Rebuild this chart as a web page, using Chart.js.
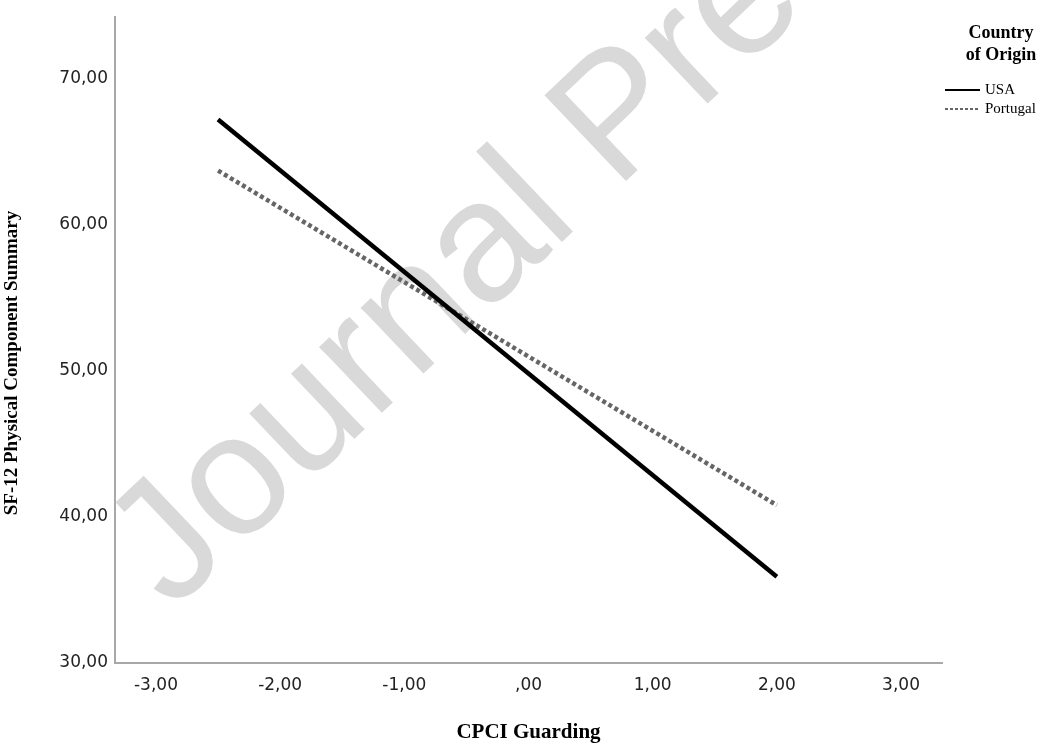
<!DOCTYPE html>
<html><head><meta charset="utf-8">
<script src="https://cdn.jsdelivr.net/npm/chart.js@4/dist/chart.umd.min.js"></script>
<style>html,body{margin:0;padding:0;background:#fff;}#wrap{width:1058px;height:747px;position:relative;}</style>
</head><body><div id="wrap"><canvas id="c" width="1058" height="747"></canvas></div>
<script>
const xValues = [-2.5, 2.0];
const usaValues = [67.2, 35.9];
const portugalValues = [63.7, 40.8];
const seriesNames = ['USA', 'Portugal'];
const xTickValues = [-3, -2, -1, 0, 1, 2, 3];
const xTickLabels = ['-3,00', '-2,00', '-1,00', ',00', '1,00', '2,00', '3,00'];
const yTickValues = [30, 40, 50, 60, 70];
const yTickLabels = ['30,00', '40,00', '50,00', '60,00', '70,00'];
const xTitle = 'CPCI Guarding';
const yTitle = 'SF-12 Physical Component Summary';
const legendTitle = ['Country', 'of Origin'];
const watermark = 'Journal Pre-proof';

const toPoints = (ys) => xValues.map((x, i) => ({x: x, y: ys[i]}));

const watermarkPlugin = {
  id: 'watermark',
  beforeDatasetsDraw(chart) {
    const ctx = chart.ctx;
    ctx.save();
    ctx.translate(172, 612);
    ctx.rotate(-43.5 * Math.PI / 180);
    ctx.font = '172px "Liberation Sans", Arial, sans-serif';
    ctx.fillStyle = '#d9d9d9';
    ctx.textBaseline = 'alphabetic';
    ctx.textAlign = 'left';
    ctx.fillText(watermark, 0, 0);
    ctx.restore();
  }
};

const yTitlePlugin = {
  id: 'yTitle',
  afterDraw(chart) {
    const ctx = chart.ctx;
    ctx.save();
    ctx.translate(12, 363);
    ctx.rotate(-Math.PI / 2);
    ctx.font = 'bold 19px "Liberation Serif", "Times New Roman", serif';
    ctx.fillStyle = '#000';
    ctx.textAlign = 'center';
    ctx.textBaseline = 'middle';
    ctx.fillText(yTitle, 0, 0);
    ctx.restore();
  }
};

const legendPlugin = {
  id: 'customLegend',
  afterDraw(chart) {
    const ctx = chart.ctx;
    ctx.save();
    ctx.fillStyle = '#000';
    ctx.textAlign = 'center';
    ctx.textBaseline = 'middle';
    ctx.font = 'bold 18px "Liberation Serif", "Times New Roman", serif';
    legendTitle.forEach((t, i) => ctx.fillText(t, 1001, 33 + i * 22));
    ctx.font = '15px "Liberation Serif", "Times New Roman", serif';
    ctx.textAlign = 'left';
    chart.data.datasets.forEach((ds, i) => {
      const y = 90 + i * 19;
      ctx.strokeStyle = ds.borderColor;
      ctx.lineWidth = 2;
      ctx.setLineDash(ds.borderDash ? [3, 2] : []);
      ctx.beginPath();
      ctx.moveTo(945, y);
      ctx.lineTo(980, y);
      ctx.stroke();
      ctx.setLineDash([]);
      ctx.fillStyle = '#000';
      ctx.fillText(ds.label, 985, y);
    });
    ctx.restore();
  }
};

new Chart(document.getElementById('c'), {
  type: 'line',
  data: {
    datasets: [
      {label: seriesNames[0], data: toPoints(usaValues), borderColor: '#000000', borderWidth: 4.5, pointRadius: 0, fill: false, tension: 0},
      {label: seriesNames[1], data: toPoints(portugalValues), borderColor: '#666666', borderWidth: 4.5, borderDash: [4, 3], pointRadius: 0, fill: false, tension: 0}
    ]
  },
  options: {
    responsive: false,
    devicePixelRatio: 1,
    animation: false,
    layout: {padding: {top: 12, right: 116, left: 0, bottom: 0}},
    plugins: {legend: {display: false}, tooltip: {enabled: false}},
    scales: {
      x: {
        type: 'linear', min: -3.33, max: 3.33,
        afterBuildTicks: (s) => { s.ticks = xTickValues.map(v => ({value: v})); },
        afterFit: (s) => { s.height = 84; },
        ticks: {
          callback: (v) => xTickLabels[xTickValues.indexOf(v)],
          font: {family: '"DejaVu Sans", sans-serif', size: 17},
          color: '#222', padding: 12, maxRotation: 0
        },
        grid: {drawOnChartArea: false, drawTicks: false},
        border: {display: true, color: '#a8a8a8', width: 2},
        title: {display: true, text: xTitle, color: '#000', font: {family: '"Liberation Serif", "Times New Roman", serif', size: 21, weight: 'bold'}, padding: {top: 0, bottom: 2}}
      },
      y: {
        type: 'linear', min: 30, max: 74.2,
        afterBuildTicks: (s) => { s.ticks = yTickValues.map(v => ({value: v})); },
        afterFit: (s) => { s.width = 115; },
        ticks: {
          callback: (v) => yTickLabels[yTickValues.indexOf(v)],
          font: {family: '"DejaVu Sans", sans-serif', size: 17},
          color: '#222', padding: 7
        },
        grid: {drawOnChartArea: false, drawTicks: false},
        border: {display: true, color: '#a8a8a8', width: 2},
        title: {display: false}
      }
    }
  },
  plugins: [watermarkPlugin, yTitlePlugin, legendPlugin]
});
</script>
</body></html>
